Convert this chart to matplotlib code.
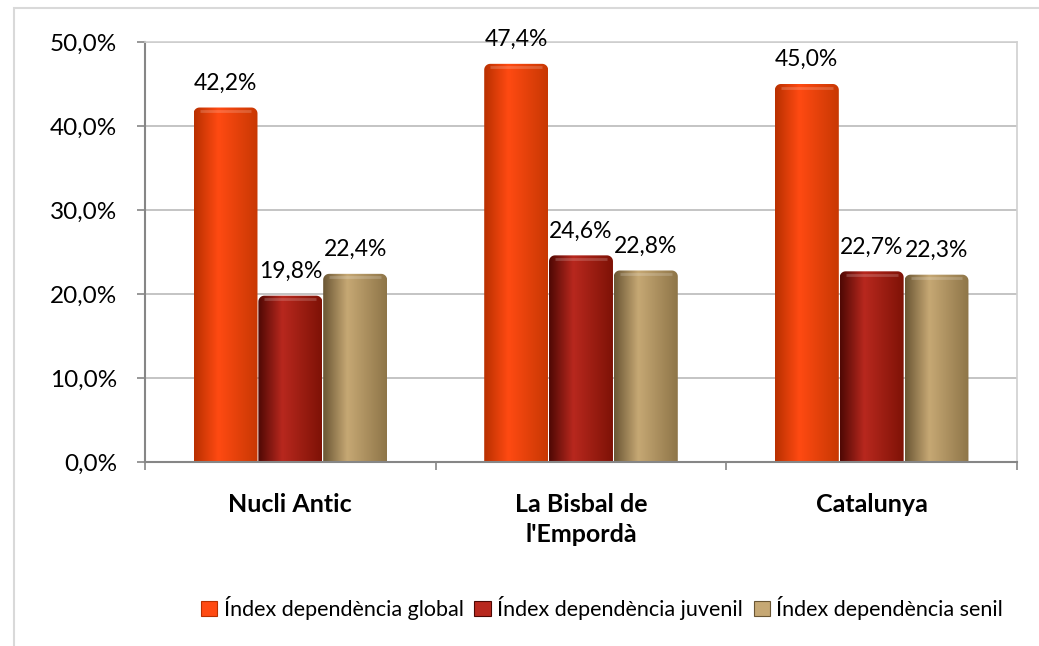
import matplotlib.pyplot as plt
import numpy as np
from matplotlib.colors import LinearSegmentedColormap
from matplotlib.patches import Rectangle, Patch, PathPatch
from matplotlib.path import Path

categories = ['Nucli Antic', "La Bisbal de\nl'Empordà", 'Catalunya']
series = ['Índex dependència global', 'Índex dependència juvenil', 'Índex dependència senil']
global_idx = [42.2, 47.4, 45.0]
juvenil_idx = [19.8, 24.6, 22.7]
senil_idx = [22.4, 22.8, 22.3]
yticks = [0, 10, 20, 30, 40, 50]

# cylinder shading: left edge, highlight, right edge
shades = [
    ['#b83000', '#ff4a12', '#c83803'],
    ['#4e0804', '#b8281e', '#7e1206'],
    ['#6a5634', '#c6a874', '#8e7548'],
]

plt.rcParams['font.family'] = ['Lato', 'DejaVu Sans']
FS = 17.5

fig = plt.figure(figsize=(10.39, 6.46), dpi=100)
ax = fig.add_axes([145 / 1039, 1 - 462 / 646, (1017 - 145) / 1039, (462 - 42) / 646])
ax.set_xlim(-0.5, 2.5)
ax.set_ylim(0, 50)

# outer chart frame
fig.patches.append(Rectangle((14 / 1039, -0.1), 1.2, 1 - 8 / 646 + 0.1, transform=fig.transFigure,
                             fill=False, edgecolor='#d9d9d9', linewidth=1.5, zorder=0))

x = np.arange(len(categories))
width = 0.22
offsets = [-0.223, 0.0, 0.223]
# rounded top corners, 6 px converted to data units
rx = 6 * 3.0 / ax.bbox.width
ry = 6 * 50.0 / ax.bbox.height
th = np.linspace(0, np.pi / 2, 12)


def bar_path(x0, x1, h):
    left = [(x0 + rx - rx * np.cos(t), h - ry + ry * np.sin(t)) for t in th]
    right = [(x1 - rx + rx * np.sin(t), h - ry * (1 - np.cos(t))) for t in th]
    verts = [(x0, 0)] + left + right + [(x1, 0), (x0, 0)]
    return Path(verts, closed=True)


grad = np.linspace(0, 1, 256).reshape(1, -1)
for vals, off, sh, name in zip([global_idx, juvenil_idx, senil_idx], offsets, shades, series):
    cmap = LinearSegmentedColormap.from_list(name, [(0, sh[0]), (0.38, sh[1]), (1, sh[2])])
    for xi, v in zip(x, vals):
        x0 = xi + off - width / 2
        x1 = xi + off + width / 2
        im = ax.imshow(grad, cmap=cmap, extent=[x0, x1, 0, v], aspect='auto',
                       interpolation='bicubic', zorder=3)
        pp = PathPatch(bar_path(x0, x1, v), transform=ax.transData, facecolor='none', edgecolor='none')
        ax.add_patch(pp)
        im.set_clip_path(pp)
        ax.plot([x0 + rx, x1 - rx], [v - ry * 0.6, v - ry * 0.6], color='white', alpha=0.18,
                linewidth=2, zorder=4, solid_capstyle='butt')
        ax.annotate(f'{v:.1f}%'.replace('.', ','), (xi + off, v), xytext=(0, 10),
                    textcoords='offset points', ha='center', va='bottom', fontsize=16.5)

ax.set_yticks(yticks)
ax.set_yticklabels([f'{t:.1f}%'.replace('.', ',') for t in yticks], fontsize=FS)
ax.set_xticks(x)
ax.set_xticklabels(categories, fontsize=18, fontweight='bold', linespacing=1.4)
ax.set_xticks([-0.5, 0.5, 1.5, 2.5], minor=True)
ax.tick_params(axis='x', which='major', length=0, pad=22)
ax.tick_params(axis='x', which='minor', length=6, width=1.2, color='#868686', direction='out')
ax.tick_params(axis='y', length=6, width=1.2, color='#868686', pad=14)
ax.grid(axis='y', color='#bfbfbf', linewidth=1.3, zorder=0)
ax.set_axisbelow(True)
for s in ['left', 'bottom']:
    ax.spines[s].set_color('#868686')
    ax.spines[s].set_linewidth(1.5)
for s in ['top', 'right']:
    ax.spines[s].set_color('#d0d0d0')
    ax.spines[s].set_linewidth(1.2)
ax.spines['bottom'].set_zorder(5)

handles = [Patch(facecolor=sh[1], edgecolor=sh[0], linewidth=0.8) for sh in shades]
fig.legend(handles, series, loc='center', bbox_to_anchor=(602 / 1039, 1 - 608 / 646), ncol=3,
           frameon=False, fontsize=15.5, handlelength=0.75, handleheight=0.75,
           handletextpad=0.3, columnspacing=0.5)

fig.savefig('out.png', dpi=100)
